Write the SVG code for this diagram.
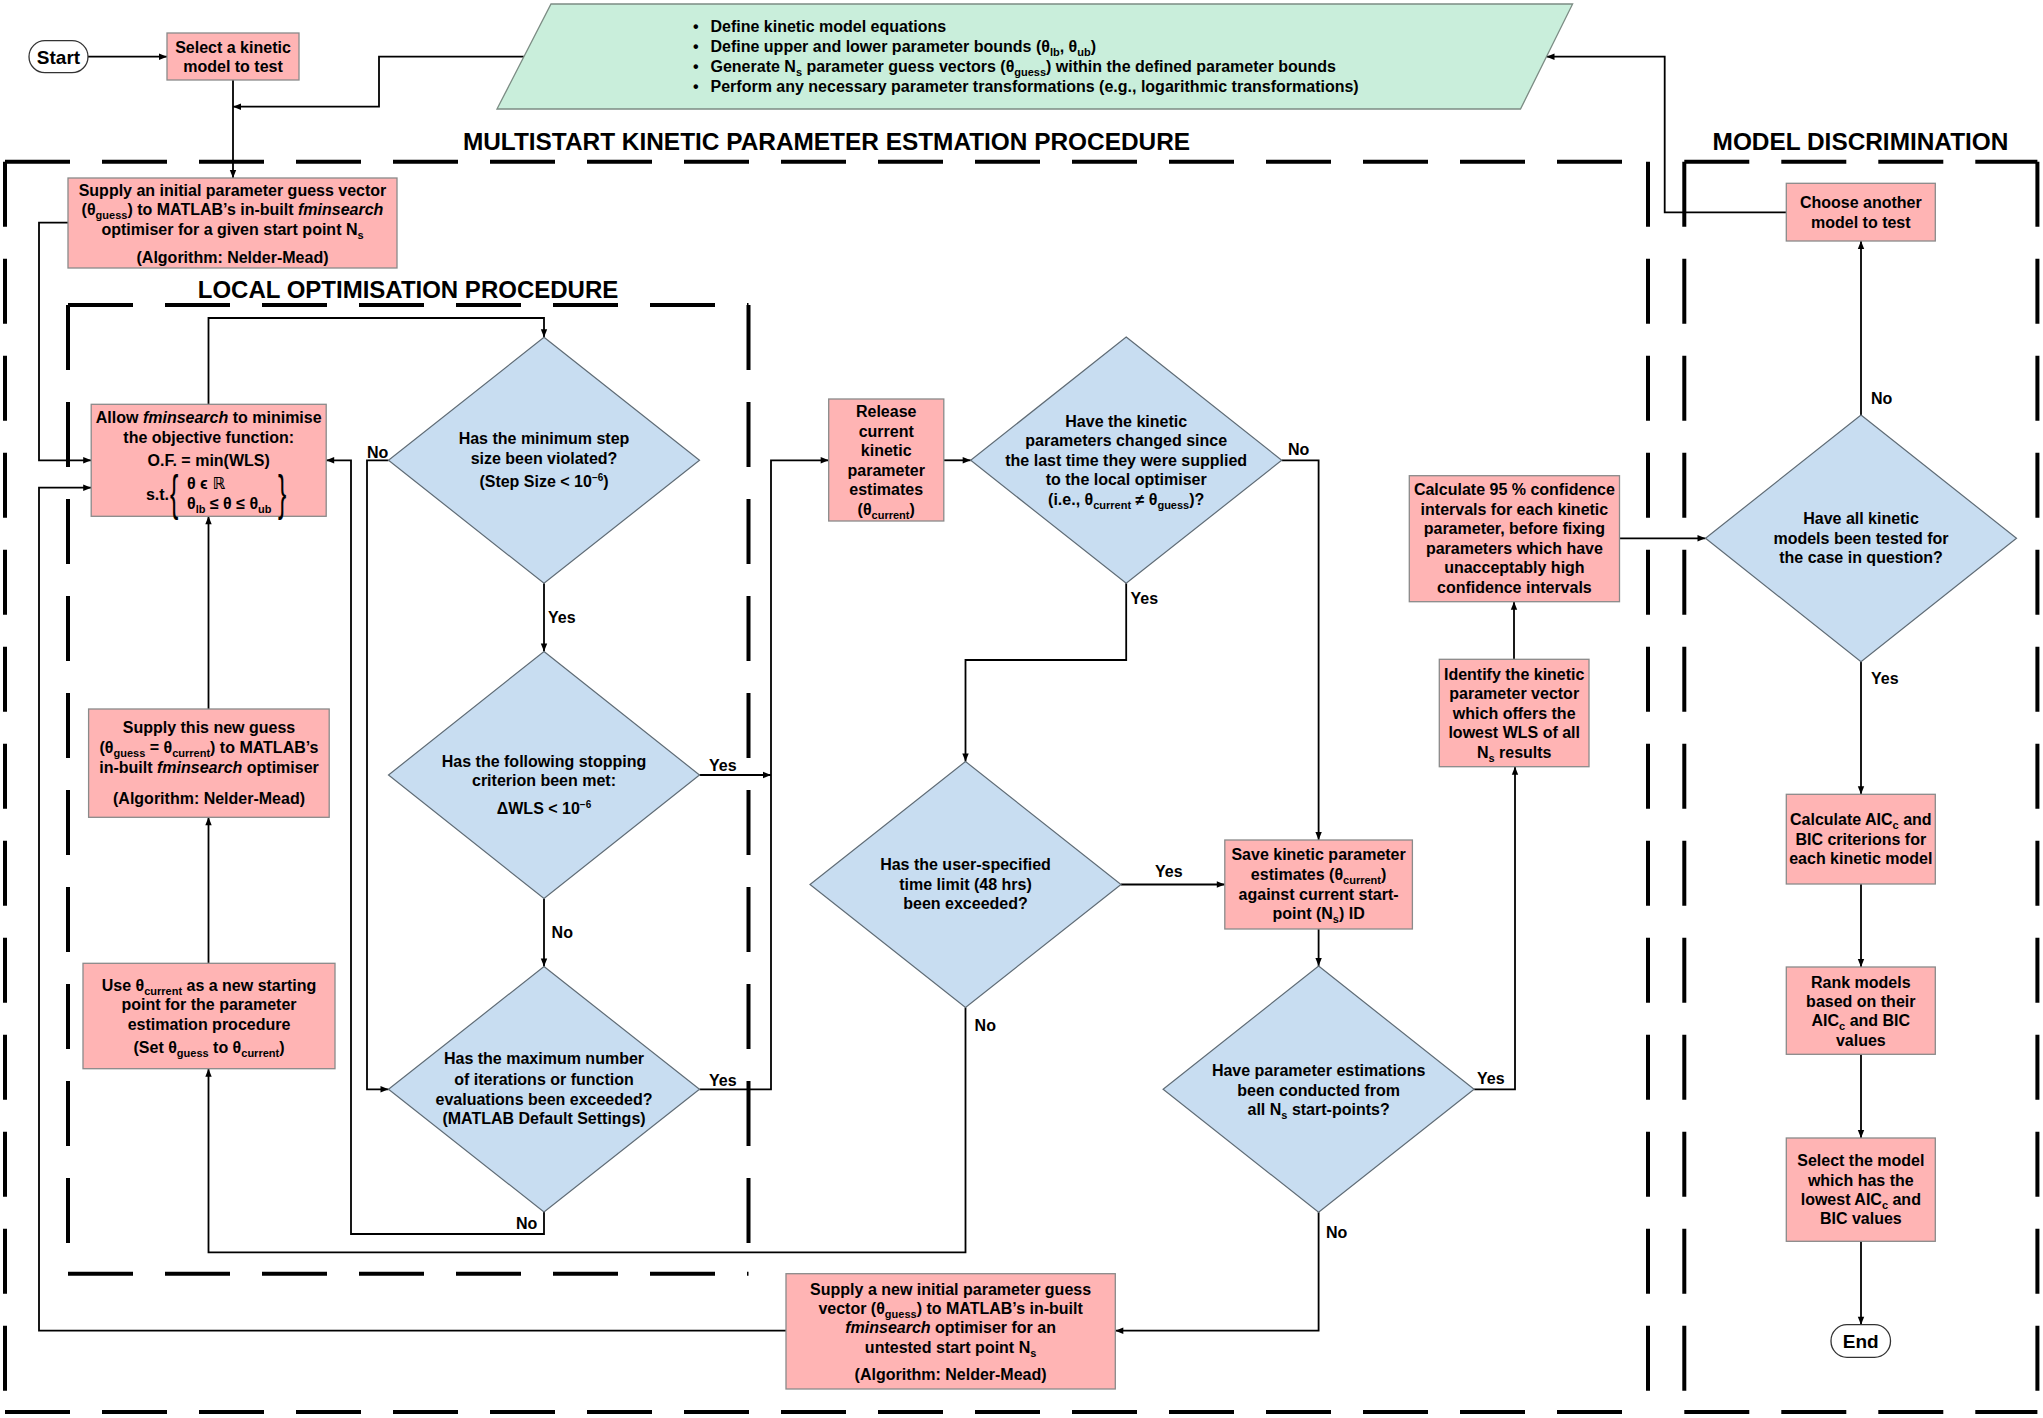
<svg xmlns="http://www.w3.org/2000/svg" width="2043" height="1418" viewBox="0 0 2043 1418">
<defs>
<marker id="ah" viewBox="0 0 10 10" refX="10" refY="5" markerWidth="9" markerHeight="8" markerUnits="userSpaceOnUse" orient="auto"><path d="M0,1 L10,5 L0,9 z" fill="#000"/></marker>
<style>
text{font-family:"Liberation Sans",Arial,"DejaVu Sans",sans-serif;font-weight:bold;font-size:16px;fill:#000}
.c{text-anchor:middle}
.t{font-size:24.4px}
.lt{font-size:24px}
.term{font-size:19px}
.sb{font-size:11px;baseline-shift:-4px}
.sp{font-size:10px;baseline-shift:6px}
.i{font-style:italic}
.box{fill:#FFB4B4;stroke:#8A8A8A;stroke-width:1.3}
.dia{fill:#C8DDF1;stroke:#5F6B75;stroke-width:1.2}
.par{fill:#C9EEDB;stroke:#7C8C84;stroke-width:1.3}
.ter{fill:#fff;stroke:#333;stroke-width:1.3}
.dash{fill:none;stroke:#000;stroke-width:4;stroke-dasharray:65 32}
.cn{fill:none;stroke:#000;stroke-width:1.8}
.ar{marker-end:url(#ah)}
.br{font-weight:normal;font-size:50px}
</style>
</defs>
<rect width="2043" height="1418" fill="#fff"/>

<g id="frames">
<path class="dash" d="M5,161.7 H1648 M5,161.7 V1412 M5,1412 H1648 M1648,161.7 V1412"/>
<path class="dash" d="M68,305 H748.5 M68,305 V1273.7 M68,1273.7 H748.5 M748.5,305 V1273.7"/>
<path class="dash" d="M1684.3,161.7 H2037.4 M1684.3,161.7 V1412 M1684.3,1412 H2037.4 M2037.4,161.7 V1412"/>
<text class="t c" x="826.5" y="150">MULTISTART KINETIC PARAMETER ESTMATION PROCEDURE</text>
<text class="lt c" x="408" y="297.7">LOCAL OPTIMISATION PROCEDURE</text>
<text class="t c" x="1860.5" y="150">MODEL DISCRIMINATION</text>
</g>

<g id="connectors">
<path class="cn ar" d="M88,56.7 H167"/>
<path class="cn ar" d="M233,80 V178"/>
<path class="cn ar" d="M523.9,56.7 H379 V106.7 H233"/>
<path class="cn ar" d="M68,222.7 H39 V460.3 H91.2"/>
<path class="cn ar" d="M208.5,404.3 V318 H544 V337.3"/>
<path class="cn ar" d="M544,583.3 V651.5"/>
<path class="cn ar" d="M388.5,460.3 H367 V1089.3 H388.5"/>
<path class="cn ar" d="M544,898.5 V966.5"/>
<path class="cn ar" d="M699.5,775 H771"/>
<path class="cn ar" d="M699.5,1089.3 H771 V460.3 H828.7"/>
<path class="cn ar" d="M544,1212 V1234 H351 V460.3 H326.2"/>
<path class="cn ar" d="M208.5,963.3 V817.3"/>
<path class="cn ar" d="M208.5,709 V516.3"/>
<path class="cn ar" d="M943.8,460.3 H970.7"/>
<path class="cn ar" d="M1281.7,460.3 H1318.6 V840"/>
<path class="cn ar" d="M1126.2,583.3 V660 H965.5 V761.5"/>
<path class="cn ar" d="M1121,884.5 H1224.8"/>
<path class="cn ar" d="M965.5,1007.5 V1252.3 H208.5 V1068.7"/>
<path class="cn ar" d="M1318.6,929 V966"/>
<path class="cn ar" d="M1474.1,1089.3 H1515 V766.7"/>
<path class="cn ar" d="M1318.6,1212.3 V1330.7 H1115.3"/>
<path class="cn ar" d="M786,1330.7 H39 V487.7 H91.2"/>
<path class="cn ar" d="M1514,659.3 V601.7"/>
<path class="cn ar" d="M1619.5,538.3 H1705.5"/>
<path class="cn ar" d="M1861,415 V241"/>
<path class="cn ar" d="M1861,661.7 V794.3"/>
<path class="cn ar" d="M1861,884 V967"/>
<path class="cn ar" d="M1861,1054.3 V1138"/>
<path class="cn ar" d="M1861,1241.3 V1324.7"/>
<path class="cn ar" d="M1786.3,212.3 H1664.7 V56.7 H1546.5"/>
<text x="548" y="623">Yes</text>
<text x="367" y="457.5">No</text>
<text x="551.6" y="937.5">No</text>
<text x="709" y="771">Yes</text>
<text x="709" y="1085.5">Yes</text>
<text x="516" y="1229">No</text>
<text x="1288" y="455">No</text>
<text x="1130.5" y="603.5">Yes</text>
<text x="1155" y="877">Yes</text>
<text x="974.6" y="1031">No</text>
<text x="1477" y="1084">Yes</text>
<text x="1326" y="1238">No</text>
<text x="1871" y="403.5">No</text>
<text x="1871" y="684">Yes</text>
</g>

<g id="start">
<rect class="ter" x="29" y="40.7" width="59" height="32" rx="16"/>
<text class="term c" x="58.5" y="63.5">Start</text>
</g>

<g id="select-model">
<rect class="box" x="167" y="33" width="132" height="47"/>
<text class="c" x="233" y="52.5">Select a kinetic</text>
<text class="c" x="233" y="72">model to test</text>
</g>

<g id="define">
<polygon class="par" points="551,4 1572.6,4 1520.5,109 497,109"/>
<text x="693" y="32.3">•</text><text x="710.5" y="32.3">Define kinetic model equations</text>
<text x="693" y="52.3">•</text><text x="710.5" y="52.3">Define upper and lower parameter bounds (θ<tspan class="sb">lb</tspan>, θ<tspan class="sb">ub</tspan>)</text>
<text x="693" y="72.3">•</text><text x="710.5" y="72.3">Generate N<tspan class="sb">s</tspan> parameter guess vectors (θ<tspan class="sb">guess</tspan>) within the defined parameter bounds</text>
<text x="693" y="92.3">•</text><text x="710.5" y="92.3">Perform any necessary parameter transformations (e.g., logarithmic transformations)</text>
</g>

<g id="supply-initial">
<rect class="box" x="68" y="178" width="329" height="90"/>
<text class="c" x="232.5" y="196">Supply an initial parameter guess vector</text>
<text class="c" x="232.5" y="215">(θ<tspan class="sb">guess</tspan>) to MATLAB’s in-built <tspan class="i">fminsearch</tspan></text>
<text class="c" x="232.5" y="235">optimiser for a given start point N<tspan class="sb">s</tspan></text>
<text class="c" x="232.5" y="263">(Algorithm: Nelder-Mead)</text>
</g>

<g id="allow">
<rect class="box" x="91.2" y="404.3" width="235" height="112"/>
<text class="c" x="208.7" y="423"><tspan>Allow </tspan><tspan class="i">fminsearch</tspan><tspan> to minimise</tspan></text>
<text class="c" x="208.7" y="442.5">the objective function:</text>
<text class="c" x="208.7" y="466">O.F. = min(WLS)</text>
<text class="c" x="157.5" y="500">s.t.</text>
<text class="br" transform="translate(170,510) scale(0.5,1)">{</text>
<text x="187" y="489">θ ϵ ℝ</text>
<text x="187" y="509">θ<tspan class="sb">lb</tspan> ≤ θ ≤  θ<tspan class="sb">ub</tspan></text>
<text class="br" transform="translate(278,510) scale(0.5,1)">}</text>
</g>

<g id="min-step">
<polygon class="dia" points="544,337.3 699.5,460.3 544,583.3 388.5,460.3"/>
<text class="c" x="544" y="444">Has the minimum step</text>
<text class="c" x="544" y="463.5">size been violated?</text>
<text class="c" x="544" y="487">(Step Size &lt; 10<tspan class="sp">−6</tspan>)</text>
</g>

<g id="stopping">
<polygon class="dia" points="544,651.5 699.5,775 544,898.5 388.5,775"/>
<text class="c" x="544" y="766.5">Has the following stopping</text>
<text class="c" x="544" y="786">criterion been met:</text>
<text class="c" x="544" y="813.5">ΔWLS &lt; 10<tspan class="sp">−6</tspan></text>
</g>

<g id="max-iter">
<polygon class="dia" points="544,966.5 699.5,1089.3 544,1212 388.5,1089.3"/>
<text class="c" x="544" y="1064">Has the maximum number</text>
<text class="c" x="544" y="1085">of iterations or function</text>
<text class="c" x="544" y="1104.5">evaluations been exceeded?</text>
<text class="c" x="544" y="1124">(MATLAB Default Settings)</text>
</g>

<g id="supply-new-guess">
<rect class="box" x="88.6" y="709" width="240.6" height="108.3"/>
<text class="c" x="209" y="733">Supply this new guess</text>
<text class="c" x="209" y="753">(θ<tspan class="sb">guess</tspan> = θ<tspan class="sb">current</tspan>) to MATLAB’s</text>
<text class="c" x="209" y="772.5">in-built <tspan class="i">fminsearch</tspan> optimiser</text>
<text class="c" x="209" y="804">(Algorithm: Nelder-Mead)</text>
</g>

<g id="use-current">
<rect class="box" x="83" y="963.3" width="252" height="105.4"/>
<text class="c" x="209" y="991">Use θ<tspan class="sb">current</tspan> as a new starting</text>
<text class="c" x="209" y="1010">point for the parameter</text>
<text class="c" x="209" y="1029.5">estimation procedure</text>
<text class="c" x="209" y="1053">(Set θ<tspan class="sb">guess</tspan> to θ<tspan class="sb">current</tspan>)</text>
</g>

<g id="release">
<rect class="box" x="828.7" y="399" width="115.1" height="122"/>
<text class="c" x="886.2" y="417">Release</text>
<text class="c" x="886.2" y="436.5">current</text>
<text class="c" x="886.2" y="456">kinetic</text>
<text class="c" x="886.2" y="476">parameter</text>
<text class="c" x="886.2" y="495">estimates</text>
<text class="c" x="886.2" y="515">(θ<tspan class="sb">current</tspan>)</text>
</g>

<g id="changed">
<polygon class="dia" points="1126.2,337 1281.7,460.3 1126.2,583.3 970.7,460.3"/>
<text class="c" x="1126.2" y="426.5">Have the kinetic</text>
<text class="c" x="1126.2" y="446">parameters changed since</text>
<text class="c" x="1126.2" y="466">the last time they were supplied</text>
<text class="c" x="1126.2" y="485">to the local optimiser</text>
<text class="c" x="1126.2" y="505">(i.e., θ<tspan class="sb">current</tspan> ≠  θ<tspan class="sb">guess</tspan>)?</text>
</g>

<g id="time-limit">
<polygon class="dia" points="965.5,761.5 1121,884.5 965.5,1007.5 810,884.5"/>
<text class="c" x="965.5" y="870">Has the user-specified</text>
<text class="c" x="965.5" y="890">time limit (48 hrs)</text>
<text class="c" x="965.5" y="909">been exceeded?</text>
</g>

<g id="save">
<rect class="box" x="1224.8" y="840" width="187.6" height="89"/>
<text class="c" x="1318.6" y="860">Save kinetic parameter</text>
<text class="c" x="1318.6" y="880">estimates (θ<tspan class="sb">current</tspan>)</text>
<text class="c" x="1318.6" y="899.5">against current start-</text>
<text class="c" x="1318.6" y="919">point (N<tspan class="sb">s</tspan>) ID</text>
</g>

<g id="all-start-points">
<polygon class="dia" points="1318.6,966 1474.1,1089.3 1318.6,1212.3 1163.1,1089.3"/>
<text class="c" x="1318.6" y="1075.5">Have parameter estimations</text>
<text class="c" x="1318.6" y="1095.5">been conducted from</text>
<text class="c" x="1318.6" y="1115">all N<tspan class="sb">s</tspan> start-points?</text>
</g>

<g id="supply-new-initial">
<rect class="box" x="786" y="1273.7" width="329.3" height="115.3"/>
<text class="c" x="950.6" y="1294.5">Supply a new initial parameter guess</text>
<text class="c" x="950.6" y="1314">vector (θ<tspan class="sb">guess</tspan>) to MATLAB’s in-built</text>
<text class="c" x="950.6" y="1333"><tspan class="i">fminsearch</tspan> optimiser for an</text>
<text class="c" x="950.6" y="1353">untested start point N<tspan class="sb">s</tspan></text>
<text class="c" x="950.6" y="1380">(Algorithm: Nelder-Mead)</text>
</g>

<g id="identify">
<rect class="box" x="1439.3" y="659.3" width="149.7" height="107.4"/>
<text class="c" x="1514.2" y="680">Identify the kinetic</text>
<text class="c" x="1514.2" y="699">parameter vector</text>
<text class="c" x="1514.2" y="719">which offers the</text>
<text class="c" x="1514.2" y="738">lowest WLS of all</text>
<text class="c" x="1514.2" y="758">N<tspan class="sb">s</tspan> results</text>
</g>

<g id="confidence">
<rect class="box" x="1409.3" y="475.7" width="210.2" height="126"/>
<text class="c" x="1514.4" y="495">Calculate 95 % confidence</text>
<text class="c" x="1514.4" y="515">intervals for each kinetic</text>
<text class="c" x="1514.4" y="534">parameter, before fixing</text>
<text class="c" x="1514.4" y="553.5">parameters which have</text>
<text class="c" x="1514.4" y="573">unacceptably high</text>
<text class="c" x="1514.4" y="592.5">confidence intervals</text>
</g>

<g id="all-models">
<polygon class="dia" points="1861,415 2016.5,538.3 1861,661.7 1705.5,538.3"/>
<text class="c" x="1861" y="524">Have all kinetic</text>
<text class="c" x="1861" y="544">models been tested for</text>
<text class="c" x="1861" y="563">the case in question?</text>
</g>

<g id="choose-another">
<rect class="box" x="1786.3" y="183.3" width="149" height="57.7"/>
<text class="c" x="1860.8" y="208">Choose another</text>
<text class="c" x="1860.8" y="227.5">model to test</text>
</g>

<g id="aic-bic">
<rect class="box" x="1786.3" y="794.3" width="149" height="89.7"/>
<text class="c" x="1860.8" y="825">Calculate AIC<tspan class="sb">c</tspan> and</text>
<text class="c" x="1860.8" y="845">BIC criterions for</text>
<text class="c" x="1860.8" y="864">each kinetic model</text>
</g>

<g id="rank">
<rect class="box" x="1786.3" y="967" width="149" height="87.3"/>
<text class="c" x="1860.8" y="987.5">Rank models</text>
<text class="c" x="1860.8" y="1007">based on their</text>
<text class="c" x="1860.8" y="1026">AIC<tspan class="sb">c</tspan> and BIC</text>
<text class="c" x="1860.8" y="1046">values</text>
</g>

<g id="select-best">
<rect class="box" x="1786.3" y="1138" width="149" height="103.3"/>
<text class="c" x="1860.8" y="1166">Select the model</text>
<text class="c" x="1860.8" y="1185.5">which has the</text>
<text class="c" x="1860.8" y="1205">lowest AIC<tspan class="sb">c</tspan> and</text>
<text class="c" x="1860.8" y="1224">BIC values</text>
</g>

<g id="end">
<rect class="ter" x="1831" y="1324.7" width="59.5" height="32.6" rx="16"/>
<text class="term c" x="1860.8" y="1348">End</text>
</g>
</svg>
